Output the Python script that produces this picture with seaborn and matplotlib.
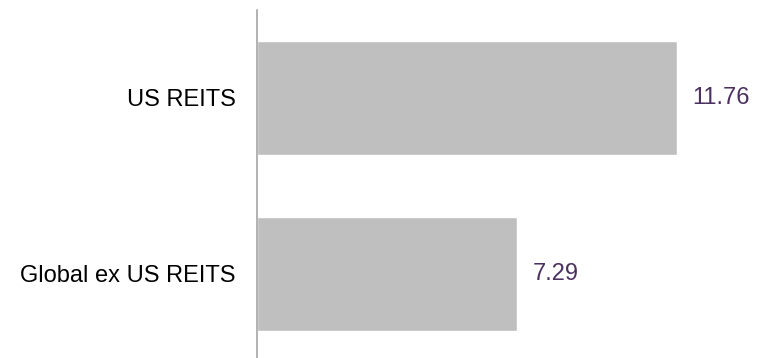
import pandas as pd
import matplotlib.pyplot as plt
import seaborn as sns

categories = ['US REITS', 'Global ex US REITS']
values = [11.76, 7.29]
value_labels = ['11.76', '7.29']

df = pd.DataFrame({'cat': categories, 'val': values})

sns.set_style('white')
plt.rcParams['font.family'] = ['Liberation Sans', 'DejaVu Sans']

fig = plt.figure(figsize=(7.58, 3.58), dpi=100)
ax = fig.add_axes([257 / 758, 0, 1 - 257 / 758, 1 - 10 / 358])

sns.barplot(data=df, x='val', y='cat', orient='h', color='#BFBFBF',
            saturation=1, width=0.648, ax=ax)

ax.set_xlim(0, 501 / 35.7)
ax.set_ylim(1 + 84 / 176, -0.5)

for i, (v, lab) in enumerate(zip(values, value_labels)):
    ax.annotate(lab, (v, i), xytext=(15, 0), textcoords='offset pixels',
                va='center', ha='left', fontsize=17, color='#4B3060')

ax.set_xlabel('')
ax.set_ylabel('')
ax.set_xticks([])
ax.tick_params(axis='y', length=0, pad=15.5, labelsize=17, labelcolor='black')
for s in ['top', 'right', 'bottom']:
    ax.spines[s].set_visible(False)
ax.spines['left'].set_color('#A6A6A6')
ax.spines['left'].set_linewidth(1.2)

fig.savefig('out.png', dpi=100)
